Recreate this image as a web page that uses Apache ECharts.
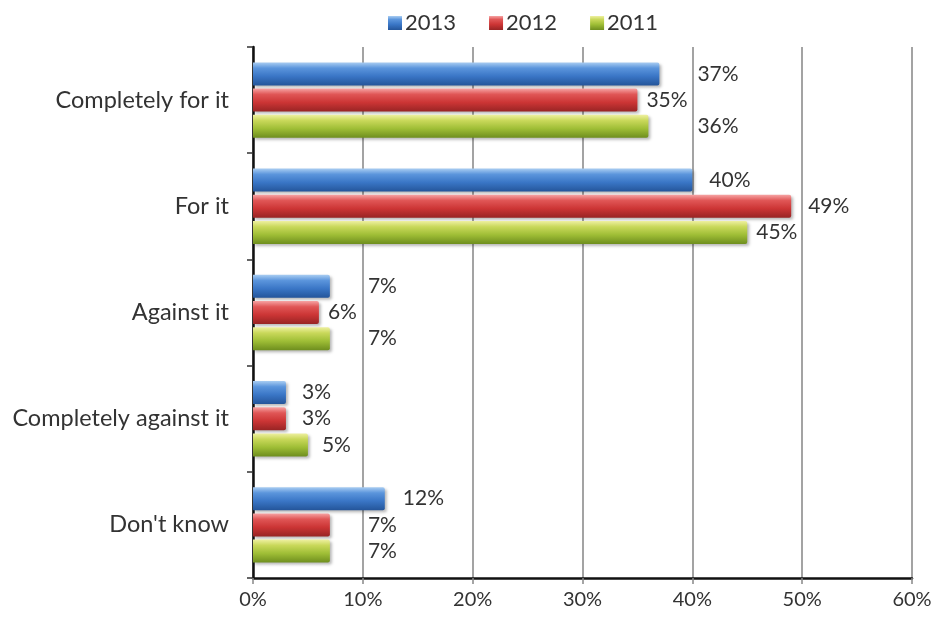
<!DOCTYPE html>
<html>
<head>
<meta charset="utf-8">
<script src="https://cdn.jsdelivr.net/npm/echarts@6/dist/echarts.min.js"></script>
<style>
  html, body { margin: 0; padding: 0; background: #ffffff; }
  #chart { width: 936px; height: 626px; }
</style>
</head>
<body>
<div id="chart"></div>
<script>
// Survey answers by year (percent of respondents)
const categories = ['Completely for it', 'For it', 'Against it', 'Completely against it', "Don't know"];
const years = ['2013', '2012', '2011'];
const values2013 = [37, 40, 7, 3, 12];
const values2012 = [35, 49, 6, 3, 7];
const values2011 = [36, 45, 7, 5, 7];
const xTicks = [0, 10, 20, 30, 40, 50, 60];

const FONT = 'Lato, "Open Sans", sans-serif';
const TEXT = '#333333';

// cylinder-like shading for each series
function shade(top, light, mid, bottom) {
  return new echarts.graphic.LinearGradient(0, 0, 0, 1, [
    { offset: 0, color: top },
    { offset: 0.25, color: light },
    { offset: 0.6, color: mid },
    { offset: 1, color: bottom }
  ]);
}
const fills = [
  shade('#a9cdf2', '#5b95dc', '#3a76c6', '#24559a'),
  shade('#f6a3a3', '#e05656', '#cc3535', '#982424'),
  shade('#eef0a0', '#c9d85a', '#9fbe36', '#6e8e1e')
];

// hand-placed label gaps, keeping the value labels clear of each other
const labelGap = [
  [38, 17, 38, 16, 18],
  [9, 17, 9, 16, 38],
  [49, 9, 38, 14, 38]
];

const seriesValues = [values2013, values2012, values2011];

const series = years.map((y, i) => ({
  name: y,
  type: 'bar',
  barWidth: 23,
  barGap: '14%',
  data: seriesValues[i].map((v, j) => ({
    value: v,
    label: { offset: [labelGap[i][j] - 4, 0] }
  })),
  itemStyle: {
    color: fills[i],
    borderRadius: [0, 2, 2, 0],
    shadowColor: 'rgba(0,0,0,0.28)',
    shadowBlur: 3,
    shadowOffsetX: 2,
    shadowOffsetY: 2
  },
  label: {
    show: true,
    position: 'right',
    distance: 4,
    formatter: '{c}%',
    color: TEXT,
    fontFamily: FONT,
    fontSize: 21
  }
}));

const chart = echarts.init(document.getElementById('chart'), null, { renderer: 'canvas' });
chart.setOption({
  backgroundColor: '#ffffff',
  animation: false,
  legend: {
    data: years,
    left: 383,
    top: 7,
    itemWidth: 14,
    itemHeight: 14,
    itemGap: 33,
    icon: 'rect',
    textStyle: { color: TEXT, fontFamily: FONT, fontSize: 22, padding: [0, 0, 0, -2] }
  },
  grid: { left: 253, right: 24, top: 47, bottom: 48, containLabel: false },
  xAxis: {
    type: 'value',
    min: xTicks[0],
    max: xTicks[xTicks.length - 1],
    interval: 10,
    axisLine: { show: true, lineStyle: { color: '#111', width: 2.5 } },
    axisTick: { show: true, length: 6, lineStyle: { color: '#888', width: 1.5 } },
    axisLabel: { formatter: '{value}%', color: TEXT, fontFamily: FONT, fontSize: 20, margin: 12 },
    splitLine: { show: true, lineStyle: { color: '#8c8c8c', width: 1.6 } }
  },
  yAxis: {
    type: 'category',
    data: categories,
    inverse: true,
    axisLine: { show: true, lineStyle: { color: '#111', width: 2.5 } },
    axisTick: { show: true, length: 6, lineStyle: { color: '#333', width: 1.5 } },
    axisLabel: { color: TEXT, fontFamily: FONT, fontSize: 23.5, margin: 24 },
    splitLine: { show: false }
  },
  series: series
});
</script>
</body>
</html>
